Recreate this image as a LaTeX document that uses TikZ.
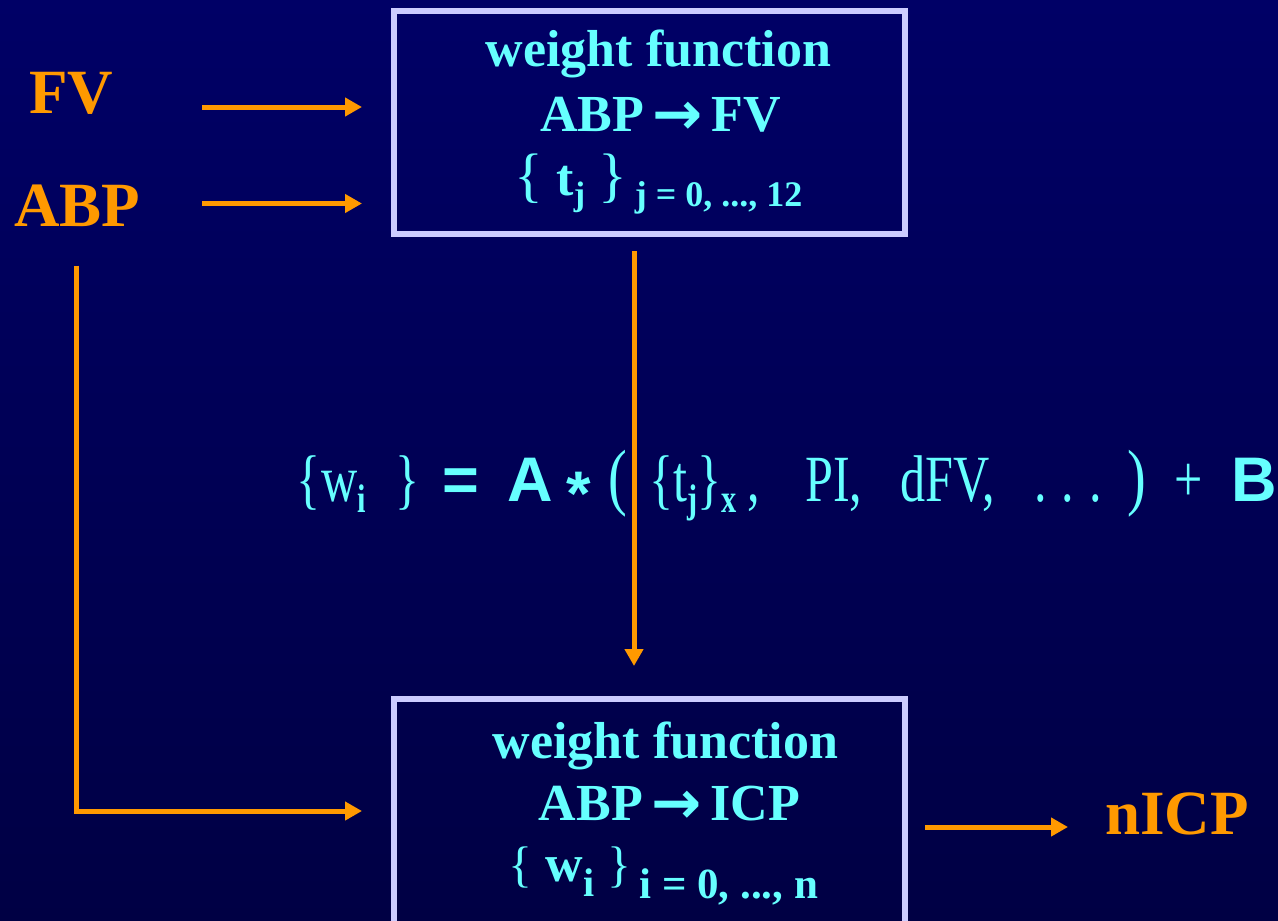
\documentclass[tikz,border=0pt]{standalone}
\usepackage{fontspec}
\setmainfont{Liberation Serif}
\setsansfont{Liberation Sans}
\newfontfamily\eqfont[FakeStretch=0.76]{Liberation Serif}
\newfontfamily\arrowfont{DejaVu Sans}
\usetikzlibrary{arrows.meta,positioning}
\definecolor{slidetop}{HTML}{000066}
\definecolor{slidebot}{HTML}{000044}
\definecolor{wfcyan}{HTML}{66FFFF}
\definecolor{wforange}{HTML}{FF9900}
\definecolor{wfframe}{HTML}{CCCCFF}
\newcommand{\eqslot}[2]{\makebox[#1pt][l]{#2}}
\newcommand{\eqrm}{\eqfont\fontsize{66}{66}\selectfont}
\newcommand{\eqsf}{\sffamily\bfseries\fontsize{63}{63}\selectfont}
\newcommand{\eqsub}[1]{\raisebox{-11pt}{\eqfont\bfseries\fontsize{40}{40}\selectfont #1}}
\newcommand{\maps}{\,\raisebox{-3pt}{\arrowfont\fontsize{60}{60}\selectfont →}\,}

\begin{document}
\begin{tikzpicture}[x=1pt, y=-1pt,
  wfbox/.style={rectangle, draw=wfframe, line width=6pt, minimum width=511pt,
                minimum height=223pt, align=center, text=wfcyan, inner sep=0pt},
  sig/.style={inner sep=0pt, text=wforange, font=\fontsize{63}{63}\selectfont\bfseries},
  arr/.style={-{Triangle[length=17pt,width=18pt]}, line width=5pt, draw=wforange}
]
  \useasboundingbox (0,0) rectangle (1278,921);
  \shade[top color=slidetop, bottom color=slidebot] (0,0) rectangle (1278,921);

  \node[wfbox, font=\fontsize{52}{64.5}\selectfont\bfseries] (boxFV) at (649.5,122.5)
    {\hspace*{18pt}weight function\\\hspace*{22pt}ABP\maps FV\\
     \hspace*{18pt}{\mdseries\fontsize{60}{60}\selectfont\{}~t\raisebox{-10pt}{\fontsize{34}{34}\selectfont j}~{\mdseries\fontsize{60}{60}\selectfont\}}\hspace{8pt}\raisebox{-11pt}{\fontsize{36}{36}\selectfont j = 0, ..., 12}};
  \node[wfbox, font=\fontsize{52}{61.5}\selectfont\bfseries, minimum height=230pt] (boxICP) at (649.5,814)
    {\hspace*{32pt}weight function\\\hspace*{40pt}ABP\maps ICP\\
     \hspace*{28pt}{\mdseries\fontsize{50}{50}\selectfont\{}~w\raisebox{-15pt}{\fontsize{40}{40}\selectfont i}~{\mdseries\fontsize{50}{50}\selectfont\}}\hspace{8pt}\raisebox{-17pt}{\fontsize{43}{43}\selectfont i = 0, ..., n}};

  \node[sig] (fv)  at (71,93.5)  {FV};
  \node[sig] (abp) at (77,205.5) {ABP};
  \node[sig] (nicp) [right=197pt of boxICP] {nICP};

  \node[anchor=base west, inner sep=0pt, text=wfcyan] (wformula) at (296,501)
    {\eqslot{25}{\eqrm\{}\eqslot{74}{\eqrm w\eqsub{i}}\eqslot{47}{\eqrm\}}%
     \eqslot{65}{\eqsf =}\eqslot{59}{\eqsf A}\eqslot{42}{\eqsf\raisebox{-14pt}{*}}%
     \eqslot{41}{\eqrm\fontsize{74}{74}\selectfont(}%
     \eqslot{156}{\eqrm\{t\eqsub{j}\}\eqsub{x}\,,}\eqslot{95}{\eqrm PI,}%
     \eqslot{134}{\eqrm dFV,}\eqslot{93}{\eqrm .\hspace{15pt}.\hspace{15pt}.}%
     \eqslot{47}{\eqrm\fontsize{74}{74}\selectfont)}\eqslot{57}{\eqrm +}{\eqsf B}};

  \draw[arr, shorten <=89pt, shorten >=29pt] ([yshift=-13.5pt]fv.east) -- ([yshift=-13.5pt]fv.east -| boxFV.west);
  \draw[arr, shorten <=62pt, shorten >=29pt] ([yshift=2pt]abp.east) -- ([yshift=2pt]abp.east -| boxFV.west);
  \draw[arr, shorten <=39pt, shorten >=29pt] ([xshift=-1pt]abp.south) |- ([yshift=3pt]boxICP.west);
  \draw[arr, shorten <=14pt, shorten >=30pt] ([xshift=-15.5pt]boxFV.south) -- ([xshift=-15.5pt]boxICP.north);
  \draw[arr, shorten <=17pt, shorten >=37pt] ([yshift=-13pt]nicp.west -| boxICP.east) -- ([yshift=-13pt]nicp.west);
\end{tikzpicture}
\end{document}
